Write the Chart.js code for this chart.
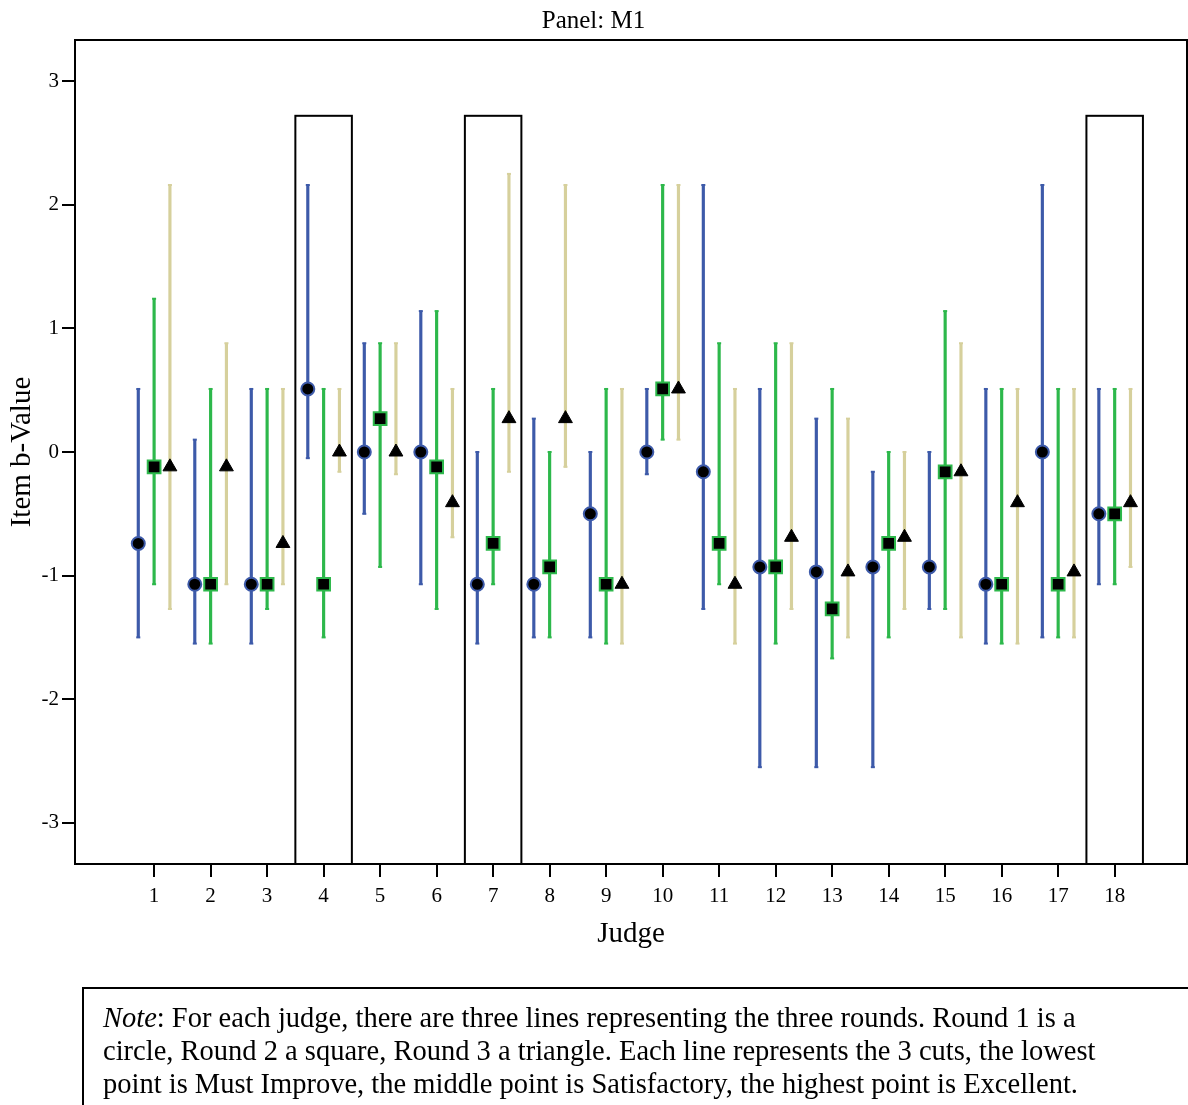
<!DOCTYPE html>
<html>
<head>
<meta charset="utf-8">
<script src="https://cdn.jsdelivr.net/npm/chart.js@4.4.1/dist/chart.umd.min.js"></script>
<style>
  body { margin: 0; background: #fff; overflow: hidden; }
  #wrap { position: relative; width: 1188px; height: 1105px; }
  #note {
    position: absolute; left: 82px; top: 987px; width: 1200px; height: 200px;
    border: 2px solid #000; box-sizing: border-box; padding: 12px 0 0 19px;
    font-family: "Liberation Serif", serif; font-size: 28.5px; line-height: 33px; color: #000;
    white-space: nowrap;
  }
</style>
</head>
<body>
<div id="wrap">
  <canvas id="grafico" width="1188" height="1105"></canvas>
  <div id="note"><i>Note</i>: For each judge, there are three lines representing the three rounds. Round 1 is a<br>circle, Round 2 a square, Round 3 a triangle. Each line represents the 3 cuts, the lowest<br>point is Must Improve, the middle point is Satisfactory, the highest point is Excellent.</div>
</div>
<script>
const judges = [1, 2, 3, 4, 5, 6, 7, 8, 9, 10, 11, 12, 13, 14, 15, 16, 17, 18]
const yTicks = [-3, -2, -1, 0, 1, 2, 3]
const highlighted = [4, 7, 18]
const highlightTop = 2.72

// round 1 (circle)
const r1Low = [-1.50, -1.55, -1.55, -0.05, -0.50, -1.07, -1.55, -1.50, -1.50, -0.18, -1.27, -2.55, -2.55, -2.55, -1.27, -1.55, -1.50, -1.07]
const r1Mid = [-0.74, -1.07, -1.07, 0.51, 0.00, 0.00, -1.07, -1.07, -0.50, 0.00, -0.16, -0.93, -0.97, -0.93, -0.93, -1.07, 0.00, -0.50]
const r1High = [0.51, 0.10, 0.51, 2.16, 0.88, 1.14, 0.00, 0.27, 0.00, 0.51, 2.16, 0.51, 0.27, -0.16, 0.00, 0.51, 2.16, 0.51]

// round 2 (square)
const r2Low = [-1.07, -1.55, -1.27, -1.50, -0.93, -1.27, -1.07, -1.50, -1.55, 0.10, -1.07, -1.55, -1.67, -1.50, -1.27, -1.55, -1.50, -1.07]
const r2Mid = [-0.12, -1.07, -1.07, -1.07, 0.27, -0.12, -0.74, -0.93, -1.07, 0.51, -0.74, -0.93, -1.27, -0.74, -0.16, -1.07, -1.07, -0.50]
const r2High = [1.24, 0.51, 0.51, 0.51, 0.88, 1.14, 0.51, 0.00, 0.51, 2.16, 0.88, 0.88, 0.51, 0.00, 1.14, 0.51, 0.51, 0.51]

// round 3 (triangle)
const r3Low = [-1.27, -1.07, -1.07, -0.16, -0.18, -0.69, -0.16, -0.12, -1.55, 0.10, -1.55, -1.27, -1.50, -1.27, -1.50, -1.55, -1.50, -0.93]
const r3Mid = [-0.12, -0.12, -0.74, 0.00, 0.00, -0.41, 0.27, 0.27, -1.07, 0.51, -1.07, -0.69, -0.97, -0.69, -0.16, -0.41, -0.97, -0.41]
const r3High = [2.16, 0.88, 0.51, 0.51, 0.88, 0.51, 2.25, 2.16, 0.51, 2.16, 0.51, 0.88, 0.27, 0.00, 0.88, 0.51, 0.51, 0.51]

const shift = 0.28

Chart.defaults.font.family = '"Liberation Serif", "Times New Roman", serif'
Chart.defaults.color = '#000'

function round(low, mid, high, dx, color, marker) {
    const bar = {
        type: 'bar',
        data: judges.map((j, i) => ({ x: j + dx, y: [low[i], high[i]] })),
        backgroundColor: color,
        borderWidth: 0,
        barThickness: 2.5,
        grouped: false,
        order: 3
    }
    const caps = {
        type: 'scatter',
        data: judges.flatMap((j, i) => [{ x: j + dx, y: low[i] }, { x: j + dx, y: high[i] }]),
        pointStyle: 'line',
        pointRadius: 2,
        borderColor: color,
        borderWidth: 2,
        order: 2
    }
    const points = {
        type: 'scatter',
        data: judges.map((j, i) => ({ x: j + dx, y: mid[i] })),
        backgroundColor: '#000',
        order: 1,
        ...marker
    }
    return [bar, caps, points]
}

const datasets = [
    ...round(r1Low, r1Mid, r1High, -shift, '#3D5AA9', { pointStyle: 'circle', pointRadius: 6.5, borderColor: '#3D5AA9', borderWidth: 2 }),
    ...round(r2Low, r2Mid, r2High, 0, '#2DB84B', { pointStyle: 'rect', pointRadius: 9, borderColor: '#2DB84B', borderWidth: 2 }),
    ...round(r3Low, r3Mid, r3High, shift, '#D6D09C', { pointStyle: 'triangle', pointRadius: 8, borderColor: '#000', borderWidth: 1 })
]

// boxes round the highlighted judges and the plot frame
const boxes = {
    id: 'boxes',
    beforeDatasetsDraw(chart) {
        const { ctx, chartArea, scales: { x, y } } = chart
        ctx.save()
        ctx.strokeStyle = '#000'
        ctx.lineWidth = 2
        highlighted.forEach(j => {
            const x1 = x.getPixelForValue(j - 0.5)
            const x2 = x.getPixelForValue(j + 0.5)
            const y1 = y.getPixelForValue(highlightTop)
            ctx.strokeRect(x1, y1, x2 - x1, chartArea.bottom - y1)
        })
        ctx.restore()
    },
    afterDraw(chart) {
        const { ctx, chartArea } = chart
        ctx.save()
        ctx.strokeStyle = '#000'
        ctx.lineWidth = 2
        ctx.strokeRect(chartArea.left, chartArea.top, chartArea.right - chartArea.left, chartArea.bottom - chartArea.top)
        ctx.restore()
    }
}

let grafico = new Chart(
    document.getElementById('grafico'),
    {
        type: 'scatter',
        data: { datasets: datasets },
        plugins: [boxes],
        options: {
            responsive: false,
            animation: false,
            layout: { autoPadding: false, padding: { left: 0, right: 1, top: 0, bottom: 141 } },
            plugins: {
                legend: { display: false },
                tooltip: { enabled: false },
                title: {
                    display: true,
                    text: 'Panel: M1',
                    font: { size: 25, weight: 'normal' },
                    color: '#000',
                    padding: { top: 6, bottom: 4 }
                }
            },
            scales: {
                x: {
                    type: 'linear',
                    min: -0.4,
                    max: 19.28,
                    offset: false,
                    afterBuildTicks: s => { s.ticks = judges.map(v => ({ value: v })) },
                    afterFit: s => { s.height = 100 },
                    grid: { display: true, offset: false, drawOnChartArea: false, drawTicks: true, tickLength: 13, color: '#000', lineWidth: 2 },
                    border: { display: true, color: '#000', width: 2 },
                    ticks: { font: { size: 21 }, padding: 7, maxRotation: 0, autoSkip: false },
                    title: { display: true, text: 'Judge', font: { size: 29 }, padding: { top: 0, bottom: 12 } }
                },
                y: {
                    type: 'linear',
                    min: -10 / 3,
                    max: 10 / 3,
                    afterBuildTicks: s => { s.ticks = yTicks.map(v => ({ value: v })) },
                    afterFit: s => { s.width = 75 },
                    grid: { display: true, drawOnChartArea: false, drawTicks: true, tickLength: 13, color: '#000', lineWidth: 2 },
                    border: { display: true, color: '#000', width: 2 },
                    ticks: { font: { size: 21 }, padding: 3 },
                    title: { display: true, text: 'Item b-Value', font: { size: 29 }, padding: { top: 5, bottom: 0 } }
                }
            }
        }
    }
)
</script>
</body>
</html>
